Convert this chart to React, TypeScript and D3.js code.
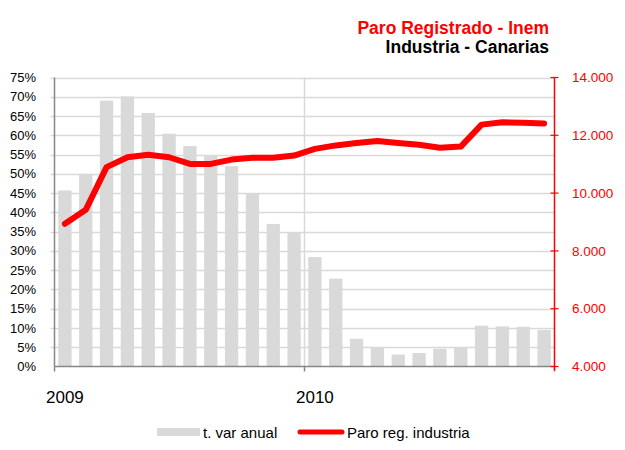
import { useEffect, useRef } from "react";
import * as d3 from "d3";

// meses ene-2009 .. dic-2010
const months = d3.range(24).map(i => `${2009 + Math.floor(i / 12)}-${String((i % 12) + 1).padStart(2, "0")}`);

// tasa de variación anual (%)
const varAnual = [
  45.7, 50.0, 69.0, 70.1, 65.8, 60.4, 57.2, 54.6, 52.0, 44.8, 37.0, 34.9,
  28.4, 22.8, 7.2, 4.8, 3.1, 3.5, 4.6, 5.0, 10.6, 10.4, 10.3, 9.5,
];

// paro registrado industria
const paroReg = [
  8940, 9420, 10900, 11240, 11330, 11240, 11010, 11010, 11160, 11220, 11220, 11300,
  11530, 11650, 11730, 11800, 11730, 11670, 11570, 11610, 12370, 12450, 12430, 12410,
];

const yearLabels = [
  { month: "2009-01", label: "2009" },
  { month: "2010-01", label: "2010" },
];

const leftTicks = d3.range(0, 76, 5);
const rightTicks = [4000, 6000, 8000, 10000, 12000, 14000];

const W = 625;
const H = 450;
const FONT = "'Liberation Sans', Arial, sans-serif";
const GRID = "#d9d9d9";
const AXIS = "#868686";
const RED = "#ff0000";

const App = () => {
  const ref = useRef<SVGSVGElement | null>(null);

  useEffect(() => {
    if (!ref.current) return;
    const svg = d3.select(ref.current);
    svg.selectAll("*").remove();

    const left = 54.5;
    const right = 554.5;
    const top = 77.5;
    const bottom = 366.5;

    const x = d3.scaleBand<string>().domain(months).range([left, right]).paddingInner(0.36).paddingOuter(0.18);
    const yL = d3.scaleLinear().domain([0, 75]).range([bottom, top]);
    const yR = d3.scaleLinear().domain([4000, 14000]).range([bottom, top]);
    const step = x.step();

    // rejilla horizontal
    svg
      .append("g")
      .selectAll("line")
      .data(leftTicks.filter(t => t > 0))
      .enter()
      .append("line")
      .attr("x1", left - 4)
      .attr("x2", right)
      .attr("y1", d => Math.round(yL(d)) + 0.5)
      .attr("y2", d => Math.round(yL(d)) + 0.5)
      .attr("stroke", GRID)
      .attr("stroke-width", 1.5);

    // rejilla vertical (cambio de año)
    const yearStart = (m: string) => (x(m) ?? 0) - (step - x.bandwidth()) / 2;
    svg
      .append("g")
      .selectAll("line")
      .data(yearLabels.slice(1))
      .enter()
      .append("line")
      .attr("x1", d => yearStart(d.month))
      .attr("x2", d => yearStart(d.month))
      .attr("y1", top)
      .attr("y2", bottom)
      .attr("stroke", GRID)
      .attr("stroke-width", 1.5);

    // barras
    svg
      .append("g")
      .selectAll("rect")
      .data(varAnual)
      .enter()
      .append("rect")
      .attr("x", (_, i) => x(months[i]) ?? 0)
      .attr("width", x.bandwidth())
      .attr("y", d => yL(d))
      .attr("height", d => bottom - yL(d))
      .attr("fill", "#d9d9d9");

    // eje izquierdo
    svg.append("line").attr("x1", left).attr("x2", left).attr("y1", top).attr("y2", bottom).attr("stroke", AXIS).attr("stroke-width", 1.5);
    svg
      .append("g")
      .selectAll("text")
      .data(leftTicks)
      .enter()
      .append("text")
      .attr("x", 36)
      .attr("y", d => yL(d))
      .attr("dy", "0.35em")
      .attr("text-anchor", "end")
      .attr("font-family", FONT)
      .attr("font-size", 13)
      .attr("fill", "#000")
      .text(d => `${d}%`);

    // eje inferior
    svg.append("line").attr("x1", left).attr("x2", right).attr("y1", bottom).attr("y2", bottom).attr("stroke", AXIS).attr("stroke-width", 1.5);
    const bTicks = [left, ...yearLabels.slice(1).map(d => yearStart(d.month)), right];
    svg
      .append("g")
      .selectAll("line")
      .data(bTicks)
      .enter()
      .append("line")
      .attr("x1", d => d)
      .attr("x2", d => d)
      .attr("y1", bottom)
      .attr("y2", bottom + 5)
      .attr("stroke", AXIS)
      .attr("stroke-width", 1.5);

    svg
      .append("g")
      .selectAll("text")
      .data(yearLabels)
      .enter()
      .append("text")
      .attr("x", d => (x(d.month) ?? 0) + x.bandwidth() / 2)
      .attr("y", 403)
      .attr("text-anchor", "middle")
      .attr("font-family", FONT)
      .attr("font-size", 17)
      .attr("fill", "#000")
      .text(d => d.label);

    // eje derecho
    svg.append("line").attr("x1", right).attr("x2", right).attr("y1", top).attr("y2", bottom + 4).attr("stroke", RED).attr("stroke-width", 1.5);
    const rg = svg.append("g");
    rg.selectAll("line")
      .data(rightTicks)
      .enter()
      .append("line")
      .attr("x1", right - 4)
      .attr("x2", right + 4)
      .attr("y1", d => yR(d))
      .attr("y2", d => yR(d))
      .attr("stroke", RED)
      .attr("stroke-width", 1.2);
    rg.selectAll("text")
      .data(rightTicks)
      .enter()
      .append("text")
      .attr("x", 572)
      .attr("y", d => yR(d))
      .attr("dy", "0.35em")
      .attr("font-family", FONT)
      .attr("font-size", 13.5)
      .attr("fill", RED)
      .text(d => d3.format(",")(d).replace(/,/g, "."));

    // línea
    const line = d3
      .line<number>()
      .x((_, i) => (x(months[i]) ?? 0) + x.bandwidth() / 2)
      .y(d => yR(d));
    svg
      .append("path")
      .datum(paroReg)
      .attr("d", line)
      .attr("fill", "none")
      .attr("stroke", RED)
      .attr("stroke-width", 6)
      .attr("stroke-linecap", "round")
      .attr("stroke-linejoin", "round");

    // título
    svg
      .append("text")
      .attr("x", 549)
      .attr("y", 34)
      .attr("text-anchor", "end")
      .attr("font-family", FONT)
      .attr("font-weight", "bold")
      .attr("font-size", 17.5)
      .attr("fill", RED)
      .text("Paro Registrado - Inem");
    svg
      .append("text")
      .attr("x", 549)
      .attr("y", 53)
      .attr("text-anchor", "end")
      .attr("font-family", FONT)
      .attr("font-weight", "bold")
      .attr("font-size", 17.5)
      .attr("fill", "#000")
      .text("Industria - Canarias");

    // leyenda
    const lg = svg.append("g").attr("font-family", FONT).attr("font-size", 15);
    lg.append("rect").attr("x", 157).attr("y", 428).attr("width", 43).attr("height", 8).attr("fill", "#d9d9d9");
    lg.append("text").attr("x", 203).attr("y", 437.5).attr("fill", "#000").text("t. var anual");
    lg.append("line")
      .attr("x1", 300)
      .attr("x2", 342)
      .attr("y1", 432)
      .attr("y2", 432)
      .attr("stroke", RED)
      .attr("stroke-width", 5)
      .attr("stroke-linecap", "round");
    lg.append("text").attr("x", 347).attr("y", 437.5).attr("fill", "#000").text("Paro reg. industria");
  }, []);

  return (
    <svg
      ref={ref}
      width={W}
      height={H}
      viewBox={`0 0 ${W} ${H}`}
      style={{ position: "absolute", left: 0, top: 0, display: "block", background: "#fff" }}
    />
  );
};

export default App;
